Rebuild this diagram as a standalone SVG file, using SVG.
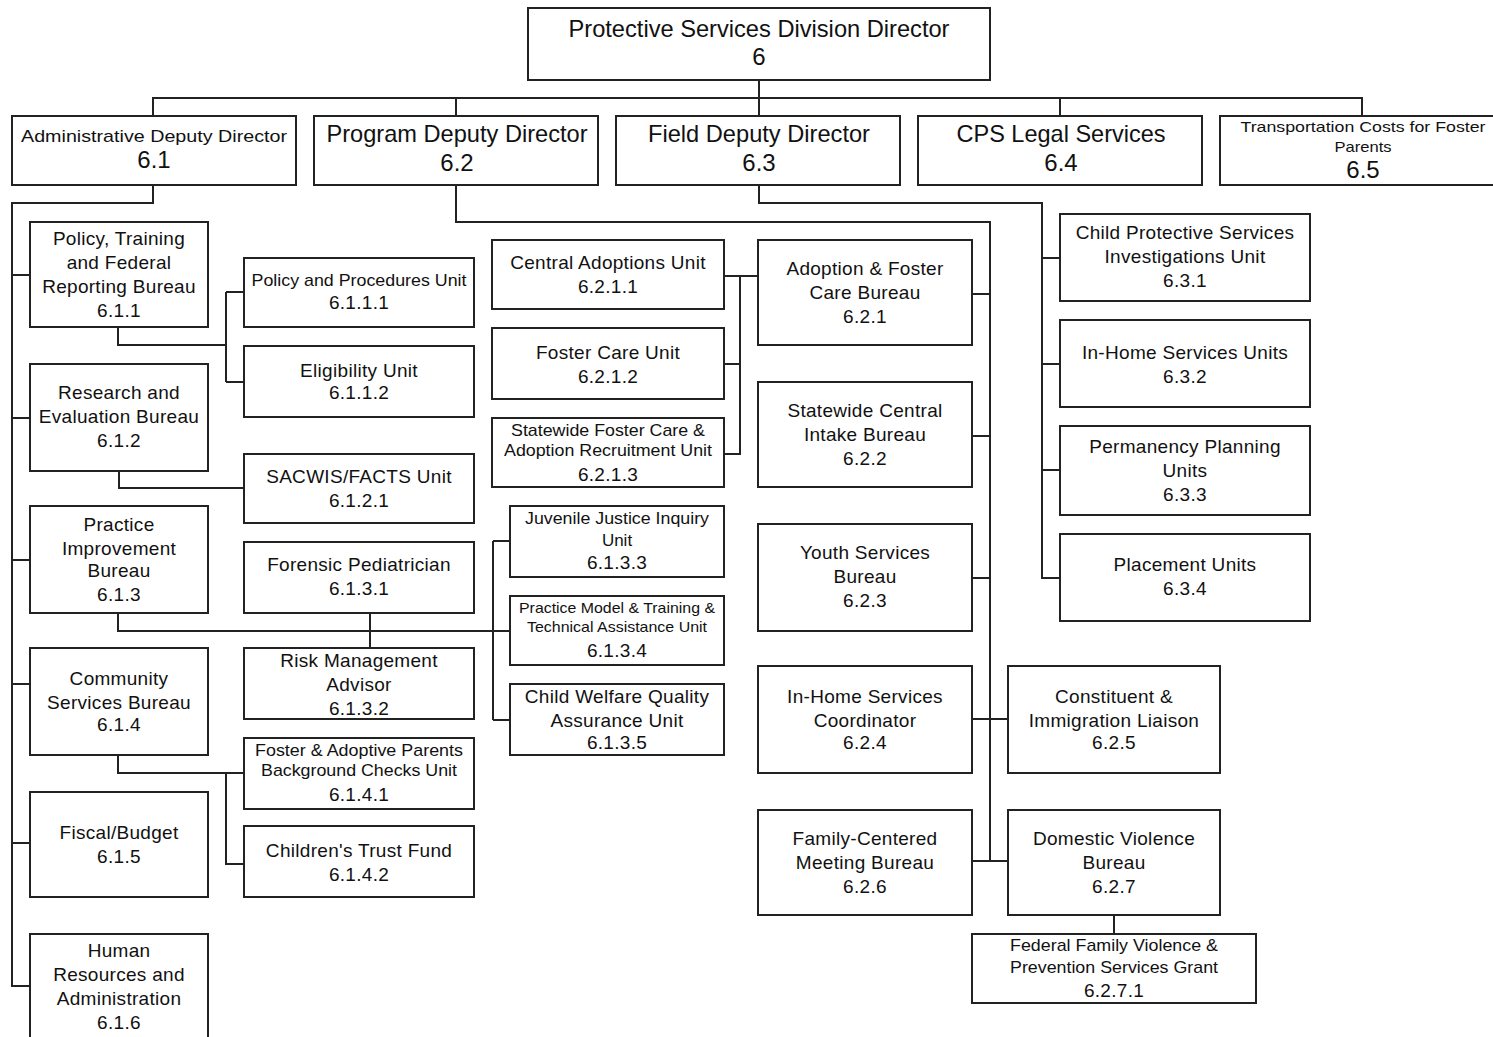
<svg xmlns="http://www.w3.org/2000/svg" width="1493" height="1037" viewBox="0 0 1493 1037">
<style>
.box{fill:#fff;stroke:#222;stroke-width:2}
.t{font-family:"Liberation Sans",Arial,sans-serif;font-size:19px;letter-spacing:0.3px;fill:#111;text-anchor:middle}
.b{font-size:24px;letter-spacing:0}
.sm{font-size:17px;letter-spacing:0}
.xs{font-size:15px;letter-spacing:0}
#connectors path{fill:none;stroke:#222;stroke-width:2}
</style>
<rect width="1493" height="1037" fill="#fff"/>
<g id="connectors">
<path d="M759,80 V98 M153,116 V98 H1362 V116 M456,98 V116 M759,98 V116 M1060,98 V116"/>
<path d="M153,185 V203 H12 V986 H30 M12,275 H30 M12,418 H30 M12,560 H30 M12,684 H30 M12,843 H30"/>
<path d="M118,327 V345 H226 M226,292 V382 M226,292 H244 M226,382 H244"/>
<path d="M119,471 V488 H244"/>
<path d="M118,613 V631 H493 M370,613 V648 M493,541 V720 M493,541 H510 M493,631 H510 M493,720 H510"/>
<path d="M118,755 V773 H244 M226,773 V864 H244"/>
<path d="M456,185 V222 H990 V861 M972,294 H990 M972,436 H990 M972,578 H990 M972,719 H1008 M972,861 H1008"/>
<path d="M758,276 H724 M740,276 V454 H724 M740,364 H724"/>
<path d="M1114,915 V934"/>
<path d="M759,185 V203 H1042 V578 H1060 M1042,258 H1060 M1042,364 H1060 M1042,470 H1060"/>
</g>
<g id="n6"><rect class="box" x="528" y="8" width="462" height="72"/><text class="t b" x="759" y="37" textLength="381" lengthAdjust="spacingAndGlyphs">Protective Services Division Director</text><text class="t b" x="759" y="65">6</text></g>
<g id="n6-1"><rect class="box" x="12" y="116" width="284" height="69"/><text class="t sm" x="154" y="142" textLength="266" lengthAdjust="spacingAndGlyphs">Administrative Deputy Director</text><text class="t b" x="154" y="168">6.1</text></g>
<g id="n6-2"><rect class="box" x="314" y="116" width="284" height="69"/><text class="t b" x="457" y="142" textLength="261" lengthAdjust="spacingAndGlyphs">Program Deputy Director</text><text class="t b" x="457" y="171">6.2</text></g>
<g id="n6-3"><rect class="box" x="616" y="116" width="284" height="69"/><text class="t b" x="759" y="142" textLength="222" lengthAdjust="spacingAndGlyphs">Field Deputy Director</text><text class="t b" x="759" y="171">6.3</text></g>
<g id="n6-4"><rect class="box" x="918" y="116" width="284" height="69"/><text class="t b" x="1061" y="142" textLength="209" lengthAdjust="spacingAndGlyphs">CPS Legal Services</text><text class="t b" x="1061" y="171">6.4</text></g>
<g id="n6-5"><rect class="box" x="1220" y="116" width="290" height="69"/><text class="t xs" x="1363" y="132" textLength="245" lengthAdjust="spacingAndGlyphs">Transportation Costs for Foster</text><text class="t xs" x="1363" y="152" textLength="57" lengthAdjust="spacingAndGlyphs">Parents</text><text class="t b" x="1363" y="178">6.5</text></g>

<g id="n6-1-1"><rect class="box" x="30" y="222" width="178" height="105"/><text class="t" x="119" y="245">Policy, Training</text><text class="t" x="119" y="269">and Federal</text><text class="t" x="119" y="293">Reporting Bureau</text><text class="t" x="119" y="317">6.1.1</text></g>
<g id="n6-1-2"><rect class="box" x="30" y="364" width="178" height="107"/><text class="t" x="119" y="399">Research and</text><text class="t" x="119" y="423">Evaluation Bureau</text><text class="t" x="119" y="447">6.1.2</text></g>
<g id="n6-1-3"><rect class="box" x="30" y="506" width="178" height="107"/><text class="t" x="119" y="531">Practice</text><text class="t" x="119" y="555">Improvement</text><text class="t" x="119" y="577">Bureau</text><text class="t" x="119" y="601">6.1.3</text></g>
<g id="n6-1-4"><rect class="box" x="30" y="648" width="178" height="107"/><text class="t" x="119" y="685">Community</text><text class="t" x="119" y="709">Services Bureau</text><text class="t" x="119" y="731">6.1.4</text></g>
<g id="n6-1-5"><rect class="box" x="30" y="792" width="178" height="105"/><text class="t" x="119" y="839">Fiscal/Budget</text><text class="t" x="119" y="863">6.1.5</text></g>
<g id="n6-1-6"><rect class="box" x="30" y="934" width="178" height="110"/><text class="t" x="119" y="957">Human</text><text class="t" x="119" y="981">Resources and</text><text class="t" x="119" y="1005">Administration</text><text class="t" x="119" y="1029">6.1.6</text></g>

<g id="n6-1-1-1"><rect class="box" x="244" y="258" width="230" height="69"/><text class="t sm" x="359" y="286" textLength="215" lengthAdjust="spacingAndGlyphs">Policy and Procedures Unit</text><text class="t" x="359" y="309">6.1.1.1</text></g>
<g id="n6-1-1-2"><rect class="box" x="244" y="346" width="230" height="71"/><text class="t" x="359" y="377">Eligibility Unit</text><text class="t" x="359" y="399">6.1.1.2</text></g>
<g id="n6-1-2-1"><rect class="box" x="244" y="454" width="230" height="69"/><text class="t" x="359" y="483">SACWIS/FACTS Unit</text><text class="t" x="359" y="507">6.1.2.1</text></g>
<g id="n6-1-3-1"><rect class="box" x="244" y="542" width="230" height="71"/><text class="t" x="359" y="571">Forensic Pediatrician</text><text class="t" x="359" y="595">6.1.3.1</text></g>
<g id="n6-1-3-2"><rect class="box" x="244" y="648" width="230" height="71"/><text class="t" x="359" y="667">Risk Management</text><text class="t" x="359" y="691">Advisor</text><text class="t" x="359" y="715">6.1.3.2</text></g>
<g id="n6-1-4-1"><rect class="box" x="244" y="738" width="230" height="71"/><text class="t sm" x="359" y="756" textLength="208" lengthAdjust="spacingAndGlyphs">Foster &amp; Adoptive Parents</text><text class="t sm" x="359" y="776" textLength="196" lengthAdjust="spacingAndGlyphs">Background Checks Unit</text><text class="t" x="359" y="801">6.1.4.1</text></g>
<g id="n6-1-4-2"><rect class="box" x="244" y="826" width="230" height="71"/><text class="t" x="359" y="857">Children's Trust Fund</text><text class="t" x="359" y="881">6.1.4.2</text></g>

<g id="n6-2-1-1"><rect class="box" x="492" y="240" width="232" height="69"/><text class="t" x="608" y="269">Central Adoptions Unit</text><text class="t" x="608" y="293">6.2.1.1</text></g>
<g id="n6-2-1-2"><rect class="box" x="492" y="328" width="232" height="71"/><text class="t" x="608" y="359">Foster Care Unit</text><text class="t" x="608" y="383">6.2.1.2</text></g>
<g id="n6-2-1-3"><rect class="box" x="492" y="418" width="232" height="69"/><text class="t sm" x="608" y="436" textLength="194" lengthAdjust="spacingAndGlyphs">Statewide Foster Care &amp;</text><text class="t sm" x="608" y="456" textLength="208" lengthAdjust="spacingAndGlyphs">Adoption Recruitment Unit</text><text class="t" x="608" y="481">6.2.1.3</text></g>
<g id="n6-1-3-3"><rect class="box" x="510" y="506" width="214" height="71"/><text class="t sm" x="617" y="524" textLength="184" lengthAdjust="spacingAndGlyphs">Juvenile Justice Inquiry</text><text class="t sm" x="617" y="546">Unit</text><text class="t" x="617" y="569">6.1.3.3</text></g>
<g id="n6-1-3-4"><rect class="box" x="510" y="596" width="214" height="69"/><text class="t xs" x="617" y="613" textLength="196" lengthAdjust="spacingAndGlyphs">Practice Model &amp; Training &amp;</text><text class="t xs" x="617" y="632" textLength="180" lengthAdjust="spacingAndGlyphs">Technical Assistance Unit</text><text class="t" x="617" y="657">6.1.3.4</text></g>
<g id="n6-1-3-5"><rect class="box" x="510" y="684" width="214" height="71"/><text class="t" x="617" y="703">Child Welfare Quality</text><text class="t" x="617" y="727">Assurance Unit</text><text class="t" x="617" y="749">6.1.3.5</text></g>

<g id="n6-2-1"><rect class="box" x="758" y="240" width="214" height="105"/><text class="t" x="865" y="275">Adoption &amp; Foster</text><text class="t" x="865" y="299">Care Bureau</text><text class="t" x="865" y="323">6.2.1</text></g>
<g id="n6-2-2"><rect class="box" x="758" y="382" width="214" height="105"/><text class="t" x="865" y="417">Statewide Central</text><text class="t" x="865" y="441">Intake Bureau</text><text class="t" x="865" y="465">6.2.2</text></g>
<g id="n6-2-3"><rect class="box" x="758" y="524" width="214" height="107"/><text class="t" x="865" y="559">Youth Services</text><text class="t" x="865" y="583">Bureau</text><text class="t" x="865" y="607">6.2.3</text></g>
<g id="n6-2-4"><rect class="box" x="758" y="666" width="214" height="107"/><text class="t" x="865" y="703">In-Home Services</text><text class="t" x="865" y="727">Coordinator</text><text class="t" x="865" y="749">6.2.4</text></g>
<g id="n6-2-6"><rect class="box" x="758" y="810" width="214" height="105"/><text class="t" x="865" y="845">Family-Centered</text><text class="t" x="865" y="869">Meeting Bureau</text><text class="t" x="865" y="893">6.2.6</text></g>
<g id="n6-2-5"><rect class="box" x="1008" y="666" width="212" height="107"/><text class="t" x="1114" y="703">Constituent &amp;</text><text class="t" x="1114" y="727">Immigration Liaison</text><text class="t" x="1114" y="749">6.2.5</text></g>
<g id="n6-2-7"><rect class="box" x="1008" y="810" width="212" height="105"/><text class="t" x="1114" y="845">Domestic Violence</text><text class="t" x="1114" y="869">Bureau</text><text class="t" x="1114" y="893">6.2.7</text></g>
<g id="n6-2-7-1"><rect class="box" x="972" y="934" width="284" height="69"/><text class="t sm" x="1114" y="951" textLength="208" lengthAdjust="spacingAndGlyphs">Federal Family Violence &amp;</text><text class="t sm" x="1114" y="973" textLength="208" lengthAdjust="spacingAndGlyphs">Prevention Services Grant</text><text class="t" x="1114" y="997">6.2.7.1</text></g>

<g id="n6-3-1"><rect class="box" x="1060" y="214" width="250" height="87"/><text class="t" x="1185" y="239">Child Protective Services</text><text class="t" x="1185" y="263">Investigations Unit</text><text class="t" x="1185" y="287">6.3.1</text></g>
<g id="n6-3-2"><rect class="box" x="1060" y="320" width="250" height="87"/><text class="t" x="1185" y="359">In-Home Services Units</text><text class="t" x="1185" y="383">6.3.2</text></g>
<g id="n6-3-3"><rect class="box" x="1060" y="426" width="250" height="89"/><text class="t" x="1185" y="453">Permanency Planning</text><text class="t" x="1185" y="477">Units</text><text class="t" x="1185" y="501">6.3.3</text></g>
<g id="n6-3-4"><rect class="box" x="1060" y="534" width="250" height="87"/><text class="t" x="1185" y="571">Placement Units</text><text class="t" x="1185" y="595">6.3.4</text></g>
</svg>
